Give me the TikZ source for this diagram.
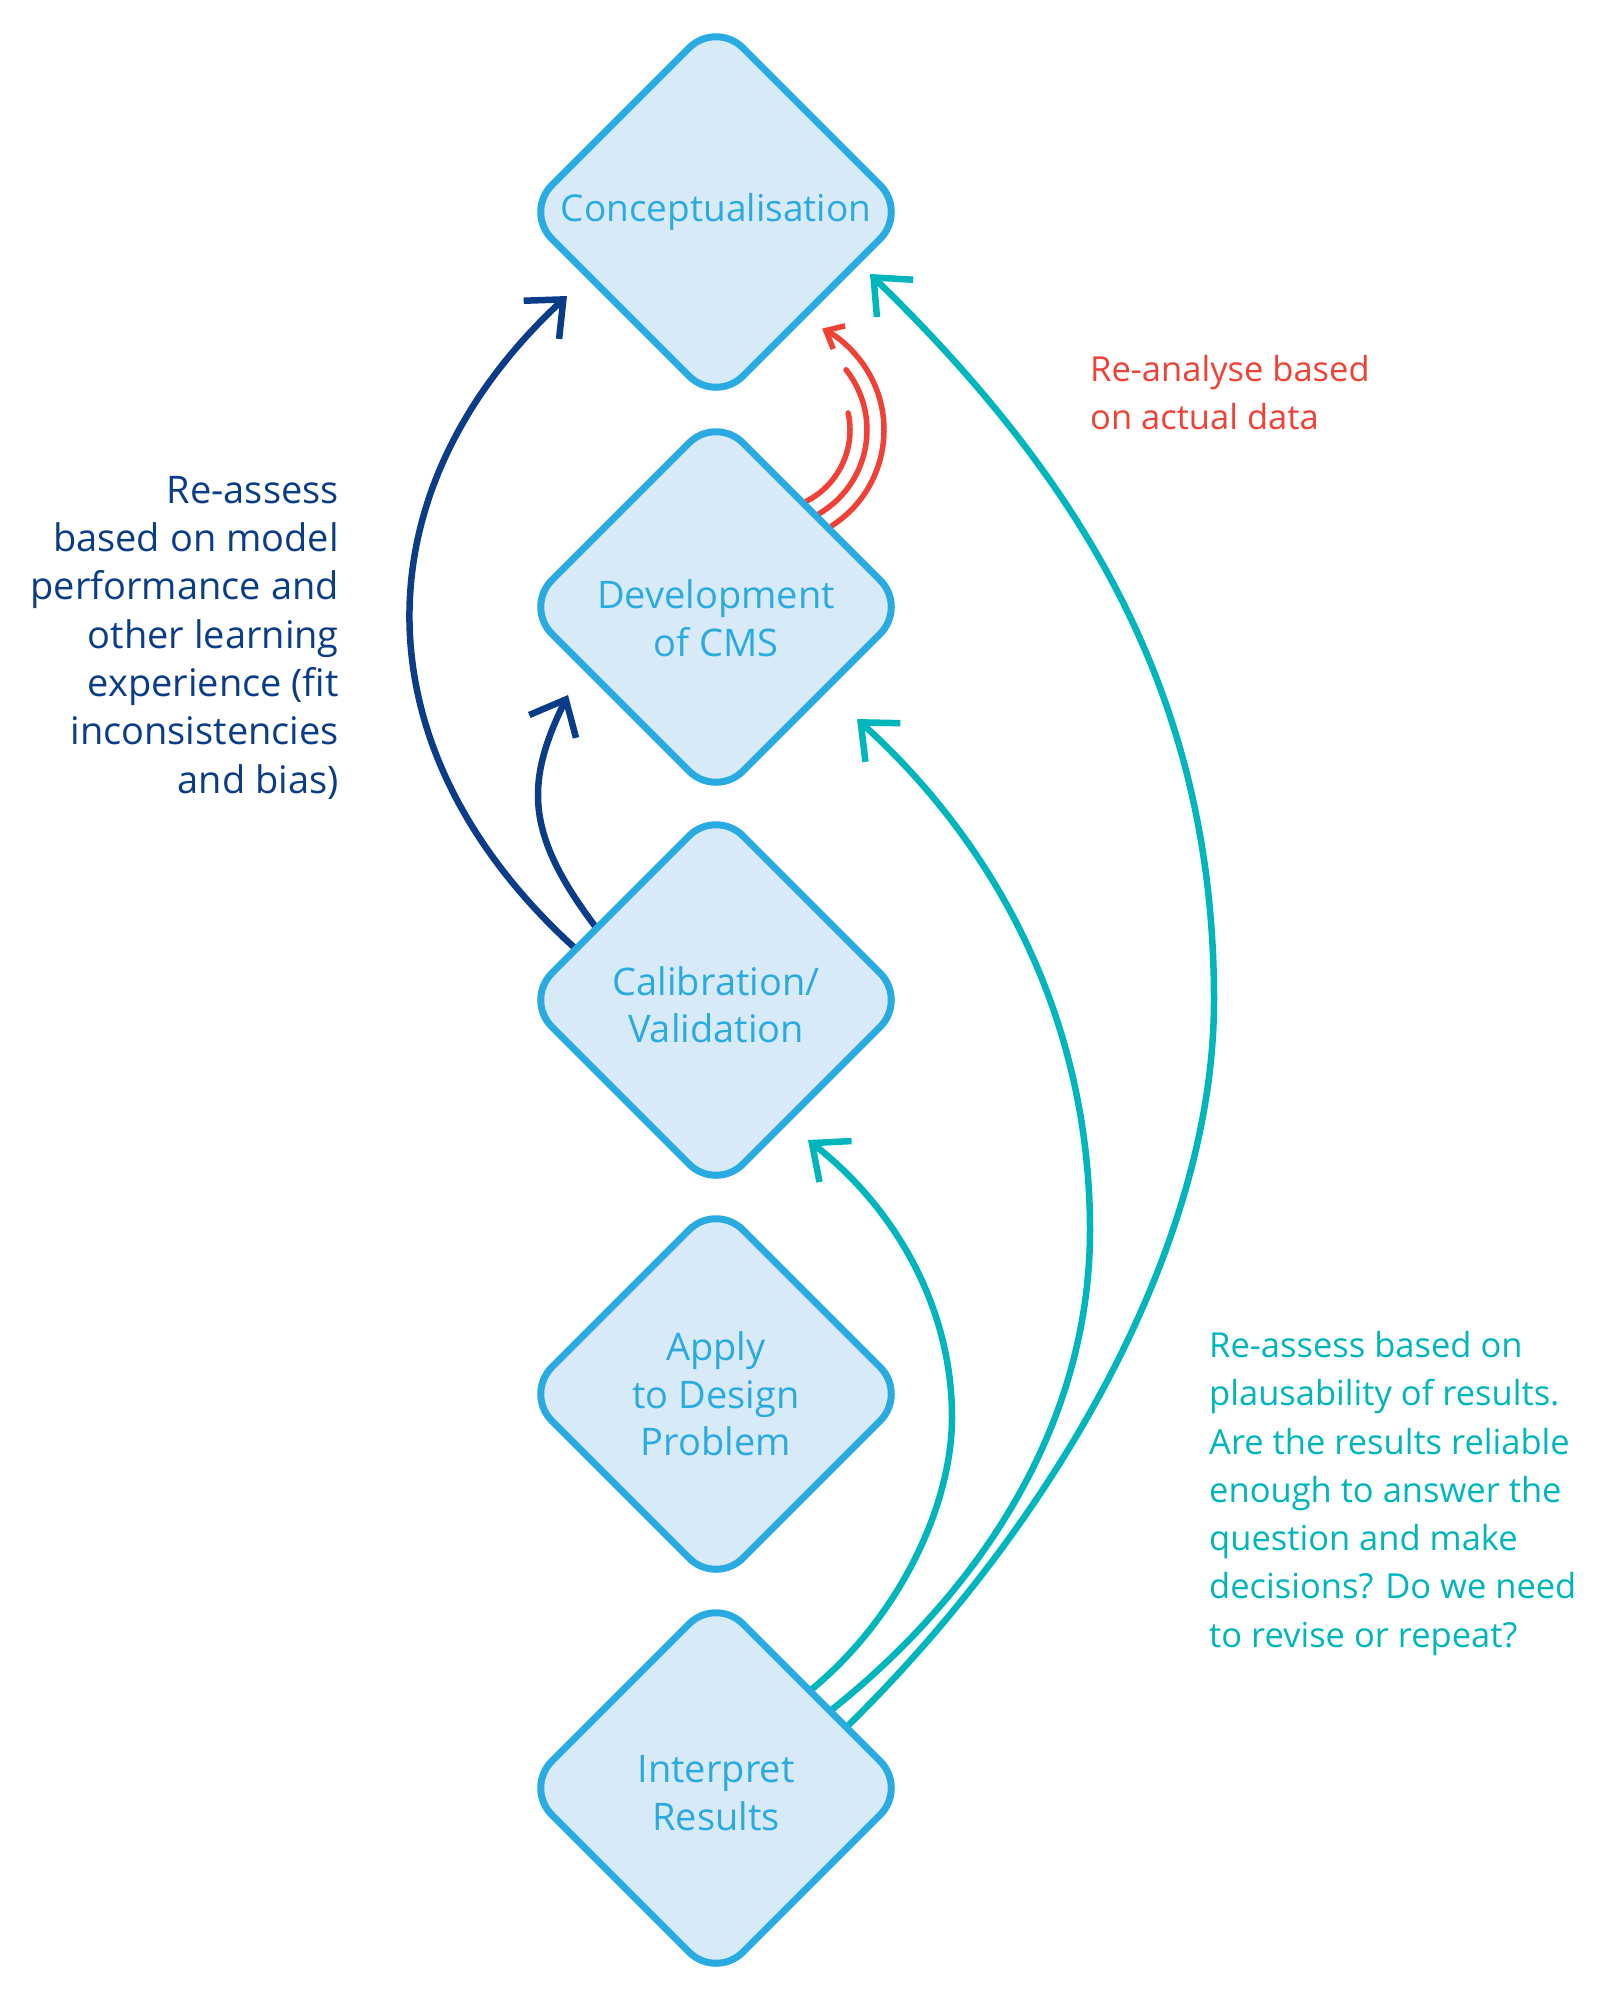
\documentclass[tikz,border=0pt]{standalone}
\usepackage{fontspec}
\setmainfont{Open Sans}
\usetikzlibrary{shapes.geometric,arrows.meta,calc}
\definecolor{dblue}{HTML}{29ABE2}
\definecolor{dfill}{HTML}{D8E9F8}
\definecolor{navyc}{HTML}{0A3C88}
\definecolor{tealc}{HTML}{00B5BB}
\definecolor{redc}{HTML}{EF4136}
\pgfdeclarelayer{bg}
\pgfsetlayers{bg,main}
\begin{document}
\begin{tikzpicture}[x=1pt,y=1pt,
  stage/.style={diamond, aspect=1, draw=dblue, fill=dfill, line width=7pt,
    minimum width=382pt, minimum height=382pt, inner sep=0pt, outer sep=0pt,
    rounded corners=38pt, text=dblue, align=center,
    font=\fontsize{38pt}{47.5pt}\selectfont},
  note/.style={inner sep=0pt, font=\fontsize{34.5pt}{48.3pt}\selectfont},
  bigtip/.style={-{Straight Barb[length=30pt,width=52pt]}},
  navyline/.style={draw=navyc, line width=6.5pt, bigtip},
  tealline/.style={draw=tealc, line width=6.5pt, bigtip},
  redline/.style={draw=redc, line width=5.5pt, line cap=round}]
\useasboundingbox (0,0) rectangle (1623,-2000);

\node[stage, font=\fontsize{37pt}{47.5pt}\selectfont] (conc) at (716,-212) {Conceptualisation};
\node[stage] (dev) at (716,-607) {\rule{0pt}{51pt}Development\\of CMS};
\node[stage] (cal) at (716,-1000) {\rule{0pt}{38pt}Calibration/\\Validation};
\node[stage] (app) at (716,-1394) {Apply\\to Design\\Problem};
\node[stage] (int) at (716,-1788) {\rule{0pt}{37pt}Interpret\\Results};

\coordinate (tipA) at (567,-296);
\coordinate (tipB) at (568,-695);
\coordinate (tipD) at (870,-274);
\coordinate (tipE) at (857,-719);
\coordinate (tipF) at (808,-1140);
\coordinate (rc) at ($(dev)+(54,177)$);

\begin{pgfonlayer}{bg}
  % navy: Calibration -> Conceptualisation / Development
  \draw[navyline] (cal.160) .. controls (356,-750) and (357,-491) .. (tipA);
  \draw[navyline] (cal.149) .. controls (525,-834) and (525,-783) .. (tipB);
  % red: Development -> Conceptualisation
  \draw[redline] ($(rc)+(-63:80)$) arc[start angle=-63, end angle=12.3, radius=80];
  \draw[redline] ($(rc)+(-59.5:97)$) arc[start angle=-59.5, end angle=38.4, radius=97];
  \draw[redline, -{Straight Barb[length=15pt,width=26pt]}] ($(rc)+(-57:114)$) arc[start angle=-57, end angle=62.8, radius=114];
  % teal: Interpret -> Conceptualisation / Development / Calibration
  \draw[tealline] (int.25) .. controls (1049,-1529) and (1214,-1250) .. (1214,-1000)
     .. controls (1214,-700) and (1086,-484) .. (tipD);
  \draw[tealline] (int.34) .. controls (975,-1596) and (1090,-1430) .. (1090,-1230)
     .. controls (1090,-1030) and (1005,-853) .. (tipE);
  \draw[tealline] (int.46) .. controls (898,-1619) and (952,-1507) .. (952,-1417)
     .. controls (952,-1307) and (895,-1208) .. (tipF);
\end{pgfonlayer}

\node[note, text=navyc, align=right, anchor=north east,
  font=\fontsize{38pt}{48.3pt}\selectfont] (noteL) at (339,-476)
  {Re-assess\\based on model\\performance and\\other learning\\experience (fit\\inconsistencies\\and bias)};
\node[note, text=redc, align=left, anchor=north west] (noteC) at (1090,-355)
  {Re-analyse based\\on actual data};
\node[note, text=tealc, align=left, anchor=north west] (noteR) at (1209,-1331)
  {Re-assess based on\\plausability of results.\\Are the results reliable\\enough to answer the\\question and make\\decisions? Do we need\\to revise or repeat?};
\end{tikzpicture}
\end{document}
